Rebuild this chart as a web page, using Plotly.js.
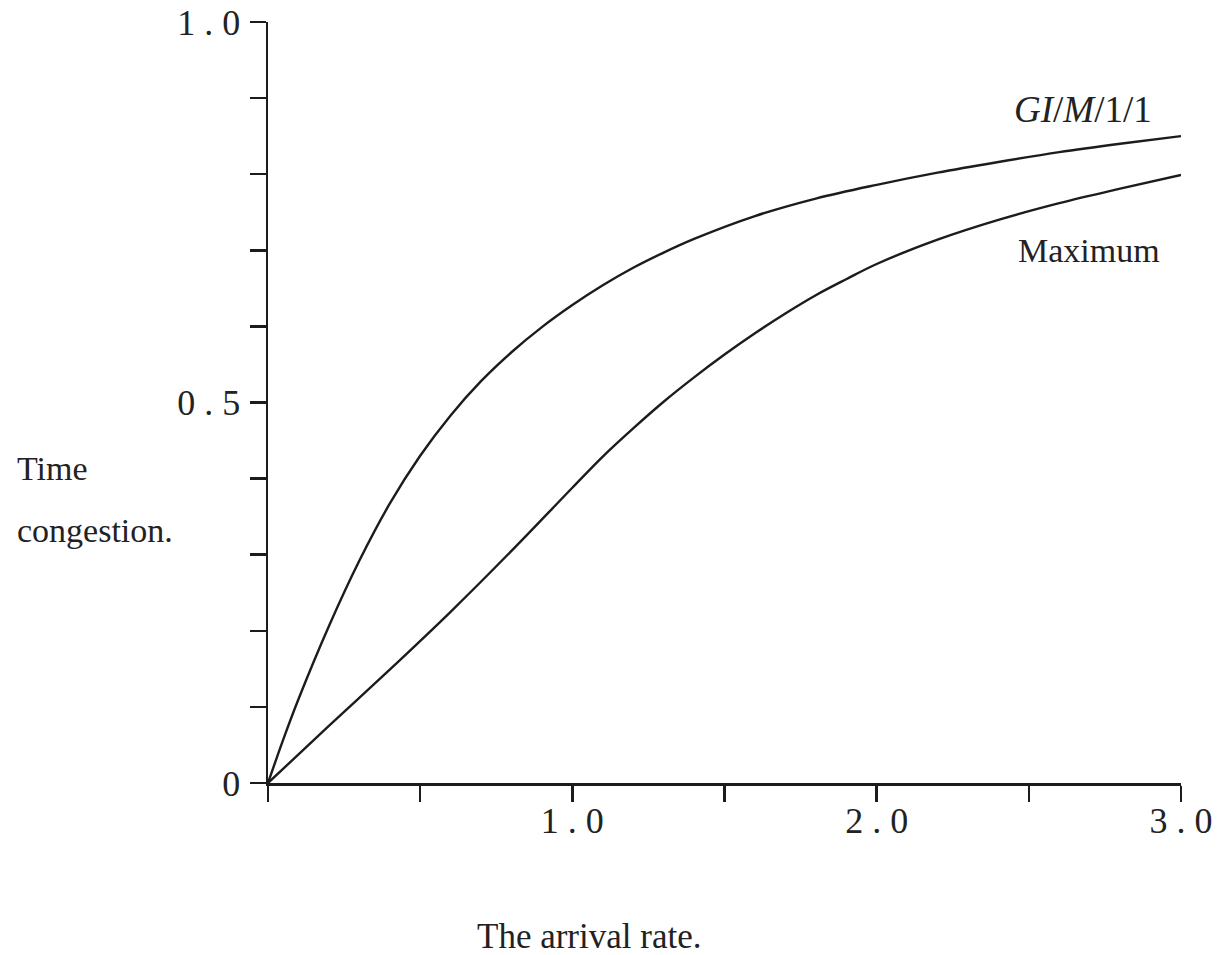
<!DOCTYPE html>
<html>
<head>
<meta charset="utf-8">
<script src="https://cdn.plot.ly/plotly-3.0.1.min.js"></script>
<style>html,body{margin:0;padding:0;background:#fff;}#chart{width:1222px;height:955px;}</style>
</head>
<body>
<div id="chart"></div>
<script>
// Arrival rate values (x) and time congestion values (y)
var giX = [0, 0.05, 0.1, 0.2, 0.3, 0.4, 0.5, 0.6, 0.7, 0.8, 0.9, 1.0, 1.1, 1.2, 1.3, 1.4, 1.6, 1.8, 2.0, 2.2, 2.4, 2.6, 2.8, 3.0];
var giY = [0, 0.057, 0.11, 0.206, 0.292, 0.367, 0.430, 0.483, 0.528, 0.566, 0.599, 0.628, 0.654, 0.677, 0.697, 0.715, 0.745, 0.768, 0.786, 0.802, 0.816, 0.829, 0.840, 0.850];

var maxX = [0, 0.2, 0.4, 0.6, 0.8, 1.0, 1.1, 1.2, 1.3, 1.4, 1.5, 1.6, 1.7, 1.8, 1.9, 2.0, 2.2, 2.4, 2.6, 2.8, 3.0];
var maxY = [0, 0.075, 0.149, 0.225, 0.305, 0.388, 0.429, 0.466, 0.501, 0.533, 0.563, 0.591, 0.617, 0.641, 0.662, 0.682, 0.714, 0.740, 0.762, 0.781, 0.799];

var xTickVals = [0, 0.5, 1.0, 1.5, 2.0, 2.5, 3.0];
var xTickText = ['', '', '1 . 0', '', '2 . 0', '', '3 . 0'];
var yTickVals = [0, 0.1, 0.2, 0.3, 0.4, 0.5, 0.6, 0.7, 0.8, 0.9, 1.0];
var yTickText = ['0', '', '', '', '', '0 . 5', '', '', '', '', '1 . 0'];

var curveLabels = ['<i>GI</i>/<i>M</i>/1/1', 'Maximum'];
var yAxisLabel = ['Time', 'congestion.'];
var xAxisLabel = 'The arrival rate.';

var ink = '#1c1c1c';
var serif = 'Liberation Serif, Times New Roman, serif';

var traces = [
  {x: giX, y: giY, mode: 'lines', line: {color: ink, width: 2.4, shape: 'spline', smoothing: 1}, hoverinfo: 'skip'},
  {x: maxX, y: maxY, mode: 'lines', line: {color: ink, width: 2.4, shape: 'spline', smoothing: 1}, hoverinfo: 'skip'}
];

var layout = {
  width: 1222, height: 955,
  margin: {l: 268, r: 41, t: 22, b: 172},
  paper_bgcolor: '#fff', plot_bgcolor: '#fff',
  showlegend: false,
  xaxis: {
    range: [0, 3], showgrid: false, zeroline: false,
    showline: true, linecolor: ink, linewidth: 2.5,
    ticks: 'outside', ticklen: 16, tickwidth: 2.5, tickcolor: ink,
    tickmode: 'array', tickvals: xTickVals, ticktext: xTickText,
    tickfont: {family: serif, size: 36, color: '#222'},
    ticklabelstandoff: -12
  },
  yaxis: {
    range: [0, 1], showgrid: false, zeroline: false,
    showline: true, linecolor: ink, linewidth: 2.5,
    ticks: 'outside', ticklen: 16, tickwidth: 2.5, tickcolor: ink,
    tickmode: 'array', tickvals: yTickVals, ticktext: yTickText,
    tickfont: {family: serif, size: 36, color: '#222'},
    ticklabelstandoff: 2
  },
  annotations: [
    {xref: 'paper', yref: 'paper', x: (1083 - 268) / 913, y: (783 - 110) / 761, text: curveLabels[0], showarrow: false, xanchor: 'center', yanchor: 'middle', font: {family: serif, size: 37, color: '#222'}},
    {xref: 'paper', yref: 'paper', x: (1089 - 268) / 913, y: (783 - 250) / 761, text: curveLabels[1], showarrow: false, xanchor: 'center', yanchor: 'middle', font: {family: serif, size: 34, color: '#222'}},
    {xref: 'paper', yref: 'paper', x: (15 - 268) / 913, y: (783 - 468) / 761, text: yAxisLabel[0], showarrow: false, xanchor: 'left', yanchor: 'middle', font: {family: serif, size: 34, color: '#222'}},
    {xref: 'paper', yref: 'paper', x: (15 - 268) / 913, y: (783 - 530) / 761, text: yAxisLabel[1], showarrow: false, xanchor: 'left', yanchor: 'middle', font: {family: serif, size: 34, color: '#222'}},
    {xref: 'paper', yref: 'paper', x: (589 - 268) / 913, y: (783 - 936) / 761, text: xAxisLabel, showarrow: false, xanchor: 'center', yanchor: 'middle', font: {family: serif, size: 35, color: '#222'}}
  ]
};

Plotly.newPlot('chart', traces, layout, {staticPlot: true, displayModeBar: false});
</script>
</body>
</html>
